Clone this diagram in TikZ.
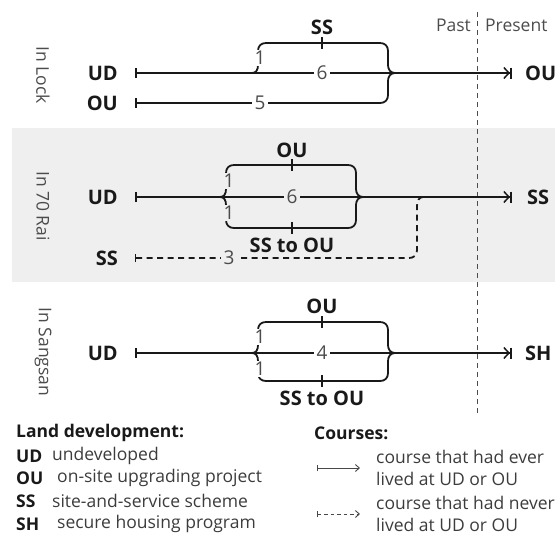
\documentclass[tikz,border=0pt]{standalone}
\usepackage{fontspec}
\setmainfont{Open Sans}
\usetikzlibrary{arrows.meta}
\definecolor{panelcol}{rgb}{0.937,0.937,0.937}
\definecolor{numcol}{rgb}{0.30,0.30,0.30}
\definecolor{linecol}{rgb}{0.10,0.10,0.10}
\begin{document}
\begin{tikzpicture}[x=1pt,y=-1pt,line join=round,
    every node/.style={font=\fontsize{17.5}{20}\selectfont,inner sep=1pt},
    lbl/.style={font=\fontsize{20}{22}\selectfont\bfseries,text=linecol},
    key/.style={font=\fontsize{17.5}{20}\selectfont\bfseries,text=linecol,anchor=west},
    num/.style={font=\fontsize{19}{21}\selectfont,text=numcol,fill=white,inner xsep=3pt,inner ysep=1.5pt},
    numgray/.style={num,fill=panelcol},
    side/.style={text=numcol,rotate=-90},
    course/.style={draw=linecol,line width=1.8pt},
    mainline/.style={course,{Bar[width=10pt,line width=1.5pt]}-{Straight Barb[length=5pt,width=11pt,line width=1.5pt] Bar[width=11pt,line width=1.6pt,sep=1.5pt]}},
    dashline/.style={course,dash pattern=on 6pt off 4.5pt,{Bar[width=8pt,line width=1.4pt]}-},
    tick/.style={draw=linecol,line width=1.6pt},
    legtext/.style={text=linecol!85,anchor=west},
  ]
  \useasboundingbox (0,0) rectangle (555,536);
  % Panel: In 70 Rai
  \fill[panelcol] (12,128) rectangle (555,282);
  % Past / Present
  \draw[numcol,line width=0.9pt,dash pattern=on 5pt off 4pt] (477,12) -- (477,415);
  \node[text=numcol,anchor=east] (past) at (472,25) {Past};
  \node[text=numcol,anchor=west] (present) at (484,25) {Present};
  %%
  %% In Lock
  \node[side] (lock) at (43,75) {In Lock};
  \node[lbl,anchor=east] (lockUD) at (119,73) {UD};
  \node[lbl,anchor=east] (lockOU) at (119,103) {OU};
  \node[lbl,anchor=west] (lockEnd) at (524,73) {OU};
  \coordinate (lockSplit) at (252,73);
  \coordinate (lockTip) at (395,73);
  % Edge: UD -> OU
  \draw[mainline] ([xshift=16pt]lockUD.east) -- ([xshift=-11pt]lockEnd.west);
  % Edge: UD -> SS -> OU
  \draw[course] (lockSplit) .. controls (256,73) and (258,70) .. (258,65) -- (258,51)
    .. controls (258,46) and (261,43) .. (266,43) -- (380,43)
    .. controls (385,43) and (388,46) .. (388,51) -- (388,65)
    .. controls (388,70) and (391,73) .. (lockTip);
  % Edge: OU -> OU
  \draw[course,{Bar[width=10pt,line width=1.5pt]}-] ([xshift=16pt]lockOU.east) -- (380,103)
    .. controls (385,103) and (388,100) .. (388,95) -- (388,81)
    .. controls (388,76) and (391,73) .. (lockTip);
  \draw[tick] (322,37) -- (322,49);
  \node[lbl] (lockSS) at (322,27) {SS};
  \node[num] at (260,58) {1};
  \node[num] at (322,73) {6};
  \node[num] at (260,103) {5};
  %%
  %% In 70 Rai
  \node[side] (rai) at (43,206) {In 70 Rai};
  \node[lbl,anchor=east] (raiUD) at (119,197) {UD};
  \node[lbl,anchor=east] (raiSS) at (119,258) {SS};
  \node[lbl,anchor=west] (raiEnd) at (526,197) {SS};
  \coordinate (raiSplit) at (220,197);
  \coordinate (raiTip) at (363,197);
  % Edge: UD -> SS
  \draw[mainline] ([xshift=16pt]raiUD.east) -- ([xshift=-13pt]raiEnd.west);
  % Edge: UD -> OU -> SS
  \draw[course] (raiSplit) .. controls (224,197) and (226,194) .. (226,189) -- (226,173)
    .. controls (226,168) and (229,165) .. (234,165) -- (348,165)
    .. controls (353,165) and (356,168) .. (356,173) -- (356,189)
    .. controls (356,194) and (359,197) .. (raiTip);
  % Edge: UD -> SS to OU -> SS
  \draw[course] (raiSplit) .. controls (224,197) and (226,200) .. (226,205) -- (226,220)
    .. controls (226,225) and (229,228) .. (234,228) -- (348,228)
    .. controls (353,228) and (356,225) .. (356,220) -- (356,205)
    .. controls (356,200) and (359,197) .. (raiTip);
  % Edge: SS -> SS
  \draw[dashline] ([xshift=16pt]raiSS.east) -- (409,258)
    .. controls (414,258) and (417,255) .. (417,250) -- (417,206)
    .. controls (417,201) and (419,197) .. (423,197);
  \draw[tick] (292,159) -- (292,171);
  \draw[tick] (292,222) -- (292,234);
  \node[lbl] (raiOU) at (292,150) {OU};
  \node[lbl] (raiSStoOU) at (292,245) {SS to OU};
  \node[numgray] at (229,181) {1};
  \node[numgray] at (229,213) {1};
  \node[numgray] at (292,197) {6};
  \node[numgray] at (229,258) {3};
  %%
  %% In Sangsan
  \node[side] (sang) at (43,352) {In Sangsan};
  \node[lbl,anchor=east] (sangUD) at (119,353) {UD};
  \node[lbl,anchor=west] (sangEnd) at (524,353) {SH};
  \coordinate (sangSplit) at (252,353);
  \coordinate (sangTip) at (395,353);
  % Edge: UD -> SH
  \draw[mainline] ([xshift=16pt]sangUD.east) -- ([xshift=-11pt]sangEnd.west);
  % Edge: UD -> OU -> SH
  \draw[course] (sangSplit) .. controls (256,353) and (258,350) .. (258,345) -- (258,330)
    .. controls (258,325) and (261,322) .. (266,322) -- (380,322)
    .. controls (385,322) and (388,325) .. (388,330) -- (388,345)
    .. controls (388,350) and (391,353) .. (sangTip);
  % Edge: UD -> SS to OU -> SH
  \draw[course] (sangSplit) .. controls (256,353) and (258,356) .. (258,361) -- (258,373)
    .. controls (258,378) and (261,381) .. (266,381) -- (380,381)
    .. controls (385,381) and (388,378) .. (388,373) -- (388,361)
    .. controls (388,356) and (391,353) .. (sangTip);
  \draw[tick] (322,316) -- (322,328);
  \draw[tick] (322,375) -- (322,387);
  \node[lbl] (sangOU) at (322,306) {OU};
  \node[lbl] (sangSStoOU) at (322,398) {SS to OU};
  \node[num] at (260,337) {1};
  \node[num] at (260,369) {1};
  \node[num] at (322,353) {4};
  %%
  %% Legend: land development
  \node[key] (landHead) at (15,433) {Land development:};
  \node[key] (kUD) at (15,456) {UD};
  \node[key] (kOU) at (15,478) {OU};
  \node[key] (kSS) at (15,501) {SS};
  \node[key] (kSH) at (15,524) {SH};
  \node[legtext] at (51,456) {undeveloped};
  \node[legtext] at (56,478) {on-site upgrading project};
  \node[legtext] at (51,501) {site-and-service scheme};
  \node[legtext] at (56,524) {secure housing program};
  %% Legend: courses
  \node[key] (courseHead) at (313,433) {Courses:};
  \coordinate (kEverA) at (317,468);
  \coordinate (kEverB) at (360,468);
  \coordinate (kNeverA) at (317,514);
  \coordinate (kNeverB) at (360,514);
  \draw[linecol!80,line width=0.9pt,{Bar[width=6pt]}-{Straight Barb[length=4pt,width=7pt]}] (kEverA) -- (kEverB);
  \draw[linecol!80,line width=0.9pt,dash pattern=on 3.5pt off 3pt,{Bar[width=6pt]}-{Straight Barb[length=4pt,width=7pt]}] (kNeverA) -- (kNeverB);
  \node[legtext] at (375,457) {course that had ever};
  \node[legtext] at (375,479) {lived at UD or OU};
  \node[legtext] at (375,503) {course that had never};
  \node[legtext] at (375,525) {lived at UD or OU};
\end{tikzpicture}
\end{document}
